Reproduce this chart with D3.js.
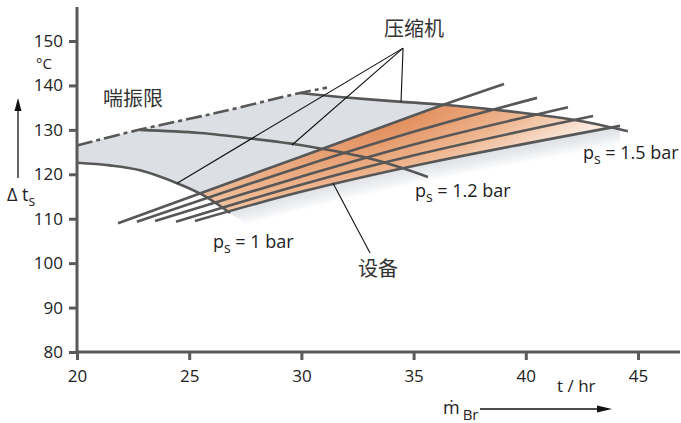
<!DOCTYPE html>
<html>
<head>
<meta charset="utf-8">
<script src="https://cdn.jsdelivr.net/npm/d3@7"></script>
<style>
  body { margin: 0; background: #fff; }
  svg { display: block; }
  text { font-family: "Open Sans", "Noto Sans", "DejaVu Sans", sans-serif; fill: #222; }
  .cjk { font-family: "Noto Sans CJK SC", sans-serif; fill: #333; }
</style>
</head>
<body>
<svg id="chart" width="681" height="423"></svg>
<script>
// Axis ticks
const xTickValues = [20, 25, 30, 35, 40, 45];
const yTickValues = [80, 90, 100, 110, 120, 130, 140, 150];

// Surge limit (dash-dot), [mass flow t/hr, Δt_s °C]
const surgeLimit = [[20, 126.5], [22.67, 129.9], [26.37, 134.0], [29.94, 138.3], [31.14, 139.5]];

// Compressor characteristics at suction pressure p_s
const compressor1 = [[20, 122.6], [21.47, 122.0], [22.81, 120.9], [24.46, 118.0], [25.62, 115.3], [26.82, 111.3]];          // 1 bar
const compressor12 = [[22.81, 130.0], [25.48, 129.3], [27.84, 128.0], [29.94, 126.6], [31.72, 125.0], [32.92, 123.7], [34.39, 121.6], [35.64, 119.4]]; // 1.2 bar
const compressor15 = [[29.94, 138.3], [31.72, 137.4], [34.48, 136.3], [36.49, 135.6], [39.74, 133.9], [42.42, 132.0], [44.55, 129.7]]; // 1.5 bar

// Plant (equipment) characteristics
const plant1 = [[21.83, 109.0], [29.94, 123.9], [35.3, 133.8], [39.03, 140.3]];
const plant2 = [[22.67, 109.3], [29.94, 121.6], [35.3, 130.0], [40.5, 137.2]];
const plant3 = [[23.48, 109.5], [29.94, 119.4], [35.3, 127.1], [41.88, 135.1]];
const plant4 = [[24.41, 109.3], [29.94, 117.6], [35.3, 124.6], [43.0, 133.1]];
const plant5 = [[25.26, 109.5], [29.94, 116.0], [35.3, 122.2], [44.2, 130.9]];
const plants = [plant1, plant2, plant3, plant4, plant5];

// Annotation anchors (data coordinates)
const compressorLeaderApex = [34.53, 148.4];
const compressorLeaderTargets = [[24.46, 118.0], [29.58, 126.6], [34.44, 136.3]];
const plantLeader = [[31.41, 118.0], [33.06, 102.3]];

const svg = d3.select("#chart");
const x = d3.scaleLinear().domain([20, 45]).range([77, 638]);
const y = d3.scaleLinear().domain([80, 150]).range([352, 41]);

const line = d3.line()
  .x(d => x(d[0])).y(d => y(d[1]))
  .curve(d3.curveCatmullRom.alpha(0.5));
const lin = pts => pts.map(p => `L${x(p[0])},${y(p[1])}`).join("");
const cont = pts => line(pts).replace(/^M/, "L");

// ----- clip regions -----
const defs = svg.append("defs");
// above/right of the 1 bar compressor curve
defs.append("clipPath").attr("id", "clipA").append("path")
  .attr("d", line(compressor1) + lin([[27.5, 109], [27.5, 60], [60, 60], [60, 170], [20, 170]]) + "Z");
// below surge limit and below the 1.5 bar curve
defs.append("clipPath").attr("id", "clipB").append("path")
  .attr("d", `M${x(20)},${y(60)}L${x(20)},${y(126.5)}` +
    cont(surgeLimit.filter(d => d[0] <= 29.94)) + cont(compressor15) +
    lin([[47, 125], [47, 60]]) + "Z");
// above the uppermost plant line
defs.append("clipPath").attr("id", "clipAbove").append("path")
  .attr("d", `M${x(20)},${y(109)}` + cont(plant1) + lin([[39.03, 170], [20, 170]]) + "Z");

// orange gradient
const rg = defs.append("radialGradient").attr("id", "orange")
  .attr("gradientUnits", "userSpaceOnUse")
  .attr("cx", 0).attr("cy", 0).attr("r", 1)
  .attr("gradientTransform", "translate(395,122) rotate(-19) scale(360,88)");
rg.append("stop").attr("offset", 0).attr("stop-color", "#e18d5b");
rg.append("stop").attr("offset", 0.5).attr("stop-color", "#eeb690");
rg.append("stop").attr("offset", 1).attr("stop-color", "#fcf1ea");

// ----- fills -----
const fillA = svg.append("g").attr("clip-path", "url(#clipA)");
const fillAB = fillA.append("g").attr("clip-path", "url(#clipB)");

fillAB.append("rect")
  .attr("x", x(20)).attr("y", 0).attr("width", 681 - x(20)).attr("height", 423)
  .attr("fill", "#dcdfe4")
  .attr("clip-path", "url(#clipAbove)");

fillAB.append("path")
  .attr("d", line(plant1) + cont(plant5.slice().reverse()) + "Z")
  .attr("fill", "url(#orange)");

// soft shade beneath the lowest plant line
const shadeSteps = d3.range(1, 19);
fillAB.selectAll("path.shade").data(shadeSteps).join("path")
  .attr("class", "shade")
  .attr("d", line(plant5))
  .attr("transform", d => `translate(0,${d})`)
  .attr("fill", "none")
  .attr("stroke", "#cdd1da")
  .attr("stroke-width", 1.6)
  .attr("stroke-opacity", d => 0.5 * (1 - d / 19));

// ----- curves -----
const curveColor = "#575757";
const curves = svg.append("g").attr("fill", "none").attr("stroke", curveColor)
  .attr("stroke-width", 2.6).attr("stroke-linecap", "butt");

plants.forEach(p => curves.append("path").attr("d", line(p)));
[compressor1, compressor12, compressor15].forEach(c => curves.append("path").attr("d", line(c)));
curves.append("path").attr("d", line(surgeLimit))
  .attr("stroke-dasharray", "16,4,4,4");

// ----- leader lines -----
const leaders = svg.append("g").attr("stroke", "#111").attr("stroke-width", 1.1).attr("fill", "none");
compressorLeaderTargets.forEach(t => leaders.append("line")
  .attr("x1", x(compressorLeaderApex[0])).attr("y1", y(compressorLeaderApex[1]))
  .attr("x2", x(t[0])).attr("y2", y(t[1])));
leaders.append("line")
  .attr("x1", x(plantLeader[0][0])).attr("y1", y(plantLeader[0][1]))
  .attr("x2", x(plantLeader[1][0])).attr("y2", y(plantLeader[1][1]));

// ----- axes -----
const axisColor = "#5a5a5a";
const yAxis = svg.append("g").attr("transform", `translate(${x(20)},0)`)
  .call(d3.axisLeft(y).tickValues(yTickValues).tickSize(8).tickPadding(6).tickFormat(d3.format("d")));
const xAxis = svg.append("g").attr("transform", `translate(0,${y(80)})`)
  .call(d3.axisBottom(x).tickValues(xTickValues).tickSize(8).tickPadding(10).tickFormat(d3.format("d")));
[yAxis, xAxis].forEach(a => {
  a.select(".domain").remove();
  a.selectAll(".tick line").attr("stroke", axisColor).attr("stroke-width", 3);
  a.selectAll(".tick text").attr("font-size", 17).attr("fill", "#222")
    .attr("font-family", '"Open Sans", "Noto Sans", sans-serif');
});
svg.append("line").attr("x1", x(20)).attr("x2", x(20))
  .attr("y1", 7).attr("y2", y(80) + 1.5)
  .attr("stroke", axisColor).attr("stroke-width", 3);
svg.append("line").attr("x1", x(20) - 1.5).attr("x2", 680)
  .attr("y1", y(80)).attr("y2", y(80))
  .attr("stroke", axisColor).attr("stroke-width", 3);

// ----- axis titles -----
svg.append("text").attr("x", 36).attr("y", 69).attr("font-size", 15).text("°C");

const yt = svg.append("text").attr("x", 7).attr("y", 201).attr("font-size", 18);
yt.append("tspan").text("Δ t");
yt.append("tspan").attr("dy", 5).attr("font-size", 14).text("s");

svg.append("line").attr("x1", 18).attr("x2", 18).attr("y1", 178).attr("y2", 110)
  .attr("stroke", "#111").attr("stroke-width", 1.3);
svg.append("path").attr("d", "M18,98 L14.5,111 L21.5,111 Z").attr("fill", "#111");

svg.append("text").attr("x", 557).attr("y", 392).attr("font-size", 17).text("t / hr");

const mt = svg.append("text").attr("x", 443).attr("y", 414).attr("font-size", 18);
mt.append("tspan").text("ṁ");
mt.append("tspan").attr("dx", 3).attr("dy", 6).attr("font-size", 15).text("Br");
svg.append("line").attr("x1", 480).attr("x2", 600).attr("y1", 409).attr("y2", 409)
  .attr("stroke", "#111").attr("stroke-width", 1.3);
svg.append("path").attr("d", "M612,409 L597,405.5 L597,412.5 Z").attr("fill", "#111");

// ----- labels -----
svg.append("text").attr("class", "cjk").attr("x", 103).attr("y", 106).attr("font-size", 20).text("喘振限");
svg.append("text").attr("class", "cjk").attr("x", 384).attr("y", 36).attr("font-size", 20).text("压缩机");
svg.append("text").attr("class", "cjk").attr("x", 358).attr("y", 276).attr("font-size", 20).text("设备");

const psLabels = [
  { x: 213, y: 248, v: "1" },
  { x: 415, y: 197, v: "1.2" },
  { x: 583, y: 159, v: "1.5" }
];
psLabels.forEach(l => {
  const t = svg.append("text").attr("x", l.x).attr("y", l.y).attr("font-size", 18);
  t.append("tspan").text("p");
  t.append("tspan").attr("dy", 5).attr("font-size", 14).text("s");
  t.append("tspan").attr("dy", -5).text(` = ${l.v} bar`);
});
</script>
</body>
</html>
